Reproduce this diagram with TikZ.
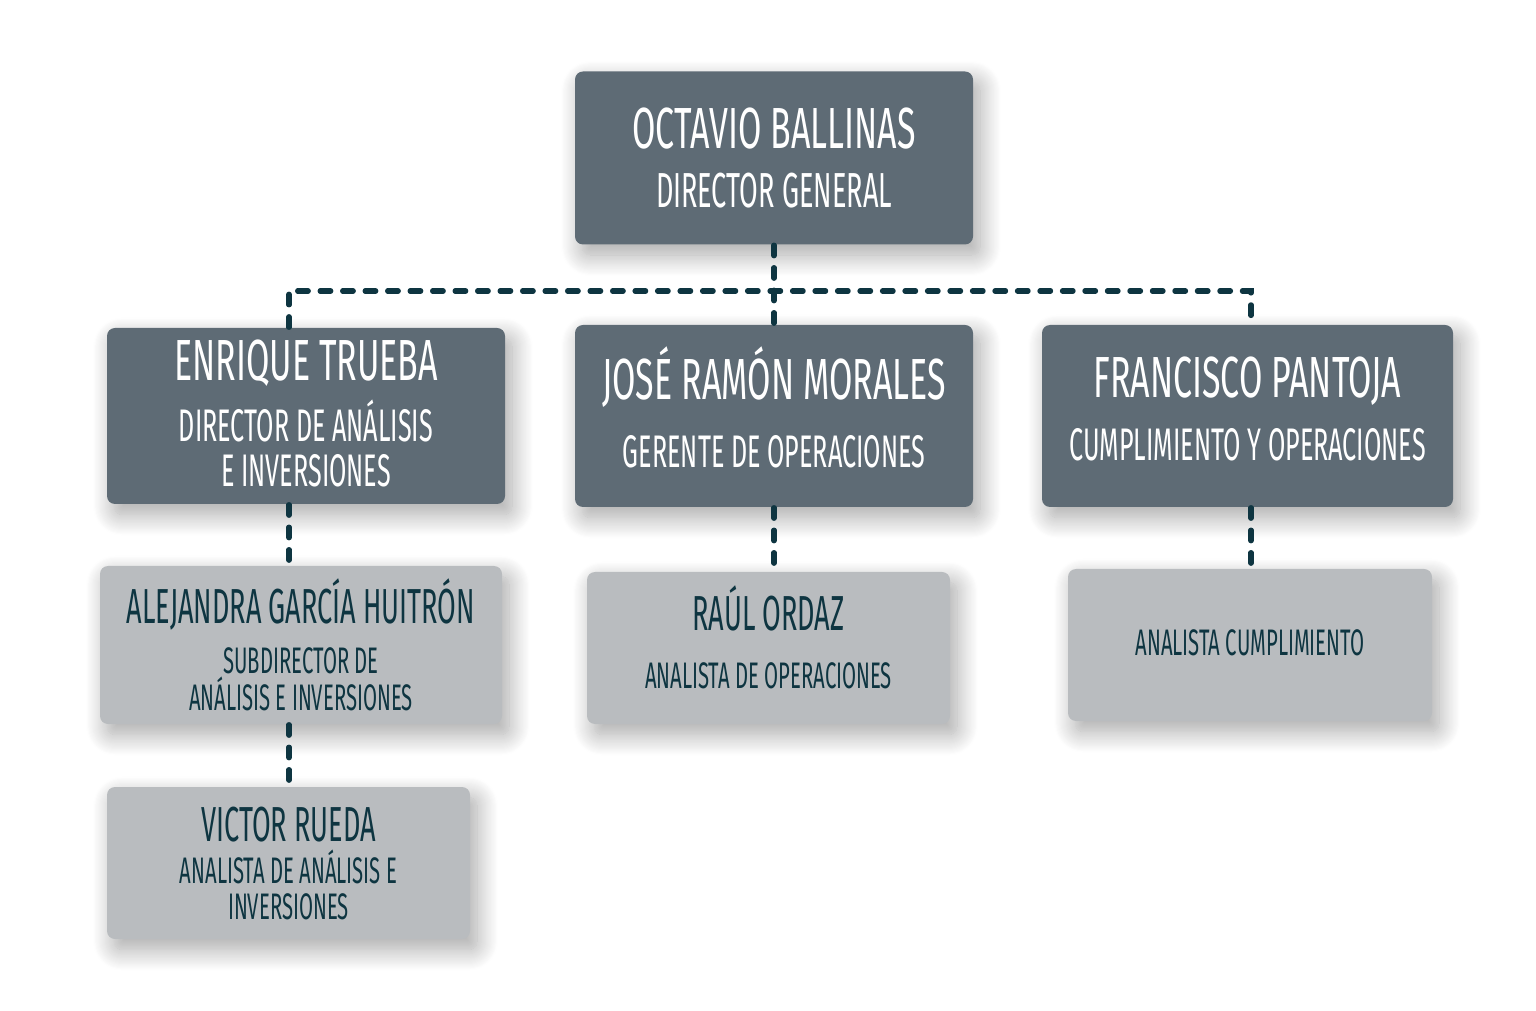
\documentclass[tikz,border=0pt]{standalone}
\usepackage{fontspec}
\setmainfont{Fira Sans}[FakeStretch=0.55]
\newfontfamily\namefont{Fira Sans}[FakeStretch=0.585]
\usepackage{tikz}
\usetikzlibrary{shadows.blur,positioning}
\definecolor{bossgray}{HTML}{5E6B75}
\definecolor{staffgray}{HTML}{B9BCBF}
\definecolor{inkteal}{HTML}{0E3541}
\newcommand{\bignm}{\namefont\fontsize{16.5}{16.5}\selectfont}
\newcommand{\midnm}{\fontsize{14}{14}\selectfont}
% a depth strut at the end of the last line lifts the text block
\newcommand{\liftby}[1]{\rule[-#1]{0pt}{0pt}}
\tikzset{
	card/.style={rounded corners=0.08cm, inner sep=0pt, align=center,
		blur shadow={shadow xshift=2pt, shadow yshift=-3pt, shadow blur radius=6pt, shadow blur steps=20, shadow opacity=35}},
	boss/.style={card, fill=bossgray, text=white, font=\fontsize{13}{13}\selectfont},
	staff/.style={card, fill=staffgray, text=inkteal},
	link/.style={draw=inkteal, line width=1.5pt, line cap=round, dash pattern=on 3pt off 3.4pt}
}
\begin{document}
\begin{tikzpicture}
				\useasboundingbox (0,0) rectangle (15.36,10.10);
				\node[boss, minimum width=3.98cm, minimum height=1.73cm, font=\fontsize{14}{14}\selectfont] (director) at (7.74,8.52) {{\bignm OCTAVIO BALLINAS}\\[3pt]DIRECTOR GENERAL};
				\node[boss, minimum width=3.98cm, minimum height=1.76cm] (enrique) at (3.06,5.94) {{\bignm ENRIQUE TRUEBA}\\[2.7pt]DIRECTOR DE ANÁLISIS\\E INVERSIONES\liftby{1.5pt}};
				\node[boss, minimum width=3.98cm, minimum height=1.82cm] (jose) at (7.74,5.94) {{\bignm JOSÉ RAMÓN MORALES}\\[6.4pt]GERENTE DE OPERACIONES\liftby{5pt}};
				\node[boss, minimum width=4.11cm, minimum height=1.82cm] (francisco) at (12.475,5.94) {{\bignm FRANCISCO PANTOJA}\\[5pt]CUMPLIMIENTO Y OPERACIONES\liftby{4pt}};
				\node[staff, minimum width=4.02cm, minimum height=1.58cm, font=\fontsize{10.5}{9.5}\selectfont] (alejandra) at (3.01,3.65) {{\midnm ALEJANDRA GARCÍA HUITRÓN}\\[4.5pt]SUBDIRECTOR DE\\ANÁLISIS E INVERSIONES};
				\node[staff, minimum width=3.63cm, minimum height=1.52cm, font=\fontsize{10.5}{10.5}\selectfont] (raul) at (7.685,3.62) {{\midnm RAÚL ORDAZ}\\[6pt]ANALISTA DE OPERACIONES\liftby{6pt}};
				\node[staff, minimum width=3.64cm, minimum height=1.52cm, font=\fontsize{10.5}{10.5}\selectfont] (analista) at (12.50,3.65) {ANALISTA CUMPLIMIENTO\liftby{1.5pt}};
				\node[staff, minimum width=3.63cm, minimum height=1.52cm, font=\fontsize{10.5}{10}\selectfont] (victor) at (2.885,1.47) {{\midnm VICTOR RUEDA}\\[2.2pt]ANALISTA DE ANÁLISIS E\\INVERSIONES};
				% dashed reporting lines
				\coordinate (busl) at (2.89,7.19);
				\coordinate (busr) at (12.51,7.19);
				\draw[link] (director.south) -- (jose.north);
				\draw[link] (busl |- enrique.north) -- (busl) -- (busr) -- (busr |- francisco.north);
				\draw[link] (busl |- enrique.south) -- (busl |- alejandra.north);
				\draw[link] (busl |- alejandra.south) -- (busl |- victor.north);
				\draw[link] (jose.south) -- (jose.south |- raul.north);
				\draw[link] (busr |- francisco.south) -- (busr |- analista.north);
				\end{tikzpicture}
\end{document}
